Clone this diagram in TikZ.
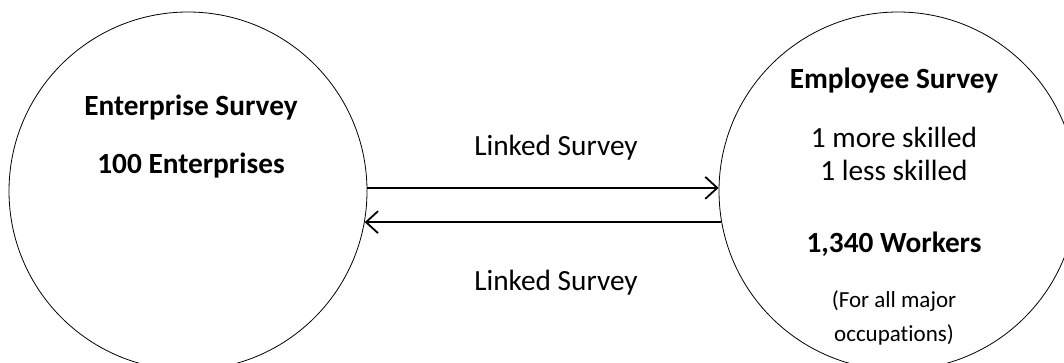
\documentclass[tikz,border=0pt]{standalone}
\usepackage{fontspec}
\setmainfont{Carlito}[Ligatures=NoCommon]
\usetikzlibrary{arrows.meta}
\begin{document}
\begin{tikzpicture}[x=1pt,y=-1pt,
  circ/.style={circle,draw=black,line width=0.8pt,minimum size=358pt,inner sep=0pt},
  lbl/.style={anchor=base,inner sep=0pt,font=\fontsize{29.3}{35}\selectfont},
  blbl/.style={lbl,font=\fontsize{29.3}{35}\selectfont\bfseries},
  slbl/.style={anchor=base,inner sep=0pt,font=\fontsize{23}{28}\selectfont},
  arr/.style={line width=1.8pt,-{Straight Barb[length=12pt,width=22pt,line width=1.8pt]}}]
\useasboundingbox (0,0) rectangle (1064,362);
\clip (0,0) rectangle (1064,362);
\node[circ] (L) at (188,191) {};
\node[circ] (R) at (898,191) {};
\node[blbl] (t1) at (191,115) {Enterprise Survey};
\node[blbl] (t2) at (191,173) {100 Enterprises};
\node[blbl] (t3) at (894,88) {Employee Survey};
\node[lbl] (t4) at (894,147) {1 more skilled};
\node[lbl] (t5) at (894,180) {1 less skilled};
\node[blbl] (t6) at (894,252) {1,340 Workers};
\node[slbl] (t7) at (894,307) {(For all major};
\node[slbl] (t8) at (894,341) {occupations)};
\node[lbl] (a1) at (556,155) {Linked Survey};
\node[lbl] (a2) at (556,290) {Linked Survey};
\draw[arr] (L.1.6) -- (L.1.6 -| R.west);
\draw[arr] (R.190.6) -- (R.190.6 -| L.-10.9);
\end{tikzpicture}
\end{document}
